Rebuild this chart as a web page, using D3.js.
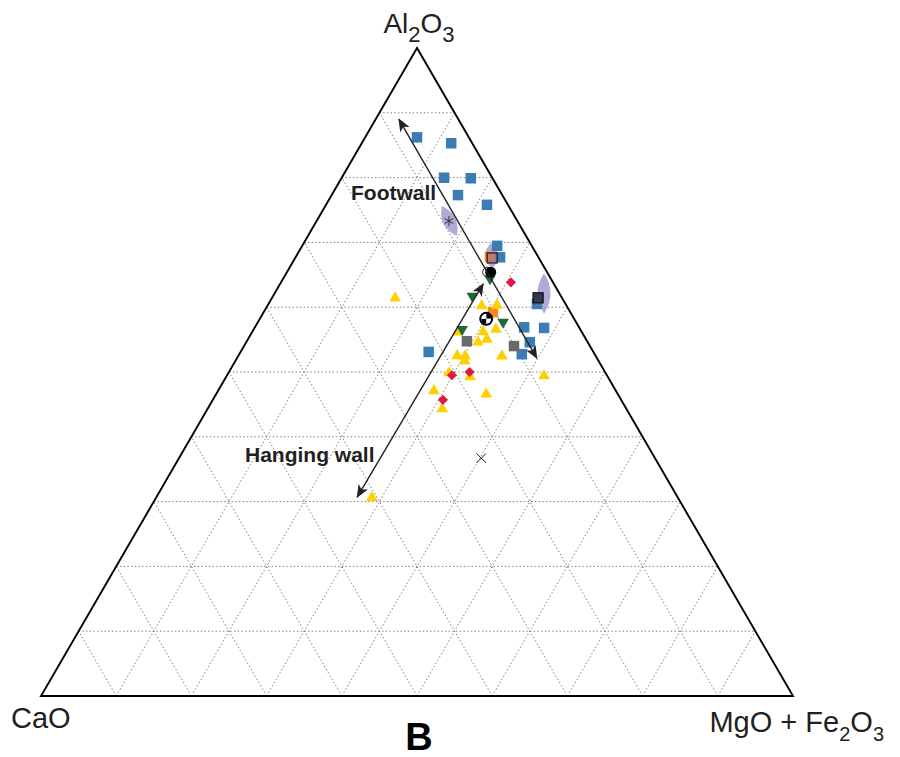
<!DOCTYPE html>
<html>
<head>
<meta charset="utf-8">
<script src="https://cdn.jsdelivr.net/npm/d3@7"></script>
<style>
    body { margin: 0; background: #fff; }
    text { font-family: "Liberation Sans", Arial, sans-serif; }
</style>
</head>
<body>
<div id="chart"></div>
<script>
// Ternary compositions in percent: [Al2O3, CaO, MgO + Fe2O3]
const blueSquares = [
    [86.3, 6.9, 6.9], [85.3, 2.8, 11.9], [79.9, 6.4, 13.6], [79.9, 2.9, 17.2],
    [77.3, 5.9, 16.8], [75.8, 2.8, 21.4], [69.4, 4.6, 25.9], [67.7, 5.1, 27.2],
    [60.5, 3.8, 35.7], [56.9, 7.3, 35.8], [56.8, 4.7, 38.5], [54.6, 7.7, 37.7],
    [52.8, 9.7, 37.6], [53.1, 21.9, 25.0]
];
const yellowTriangles = [
    [61.4, 22.2, 16.4], [60.2, 11.3, 28.5], [60.3, 9.2, 30.5], [56.2, 16.5, 27.4],
    [56.2, 13.1, 30.7], [56.6, 11.2, 32.2], [55.1, 13.2, 31.8], [54.6, 14.6, 30.8],
    [52.5, 18.4, 29.1], [52.5, 17.4, 30.2], [51.7, 17.8, 30.5], [52.5, 12.5, 35.1],
    [49.8, 20.8, 29.3], [49.2, 18.3, 32.4], [49.4, 8.4, 42.2], [47.1, 24.2, 28.7],
    [46.6, 17.5, 35.9], [44.3, 24.5, 31.2], [30.6, 40.7, 28.7]
];
const greenTriangles = [
    [64.4, 8.1, 27.5], [61.7, 11.8, 26.5], [57.7, 9.7, 32.6], [56.6, 15.7, 27.7]
];
const redDiamonds = [
    [63.9, 5.6, 30.6], [49.5, 20.6, 29.9], [50.0, 18.0, 32.0], [45.7, 23.7, 30.6]
];
const graySquares = [[54.8, 16.0, 29.3], [54.0, 10.1, 35.9]];
const orangeSquares = [[67.7, 6.4, 25.8], [59.3, 10.3, 30.5]];
const meanSquares = [[67.6, 6.2, 26.2], [62.0, 3.2, 35.7]];
// error ranges drawn as lenses: [start, end]
const lenses = [
    [[75.6, 8.9, 15.5], [71.0, 9.2, 19.8]],
    [[69.9, 5.2, 24.9], [66.0, 7.0, 27.0]],
    [[65.3, 0.5, 34.3], [59.0, 3.6, 37.4]]
];
const asterisks = [[73.3, 9.1, 17.6]];
const blackCircles = [[65.4, 7.5, 27.1]];
const openCircles = [[65.4, 7.9, 26.7]];
const checkerCircles = [[58.2, 11.7, 30.1]];
const crosses = [[36.7, 23.1, 40.2]];
// trend arrows
const arrows = [
    { name: "Footwall", from: [89.0, 7.9, 3.1], to: [52.2, 8.0, 39.9] },
    { name: "Hanging wall", from: [63.6, 9.4, 27.0], to: [30.7, 42.6, 26.7] }
];
const gridSteps = [10, 20, 30, 40, 50, 60, 70, 80, 90];

function init() {
    const width = 900, height = 757;

    const svg = d3.select("#chart")
                  .append("svg")
                  .attr("width", width)
                  .attr("height", height);

    // Ternary -> screen scales
    const xScale = d3.scaleLinear().domain([0, 1]).range([41, 793]);
    const yScale = d3.scaleLinear().domain([0, 1]).range([696, 48]);

    function project(d) {
        const s = d[0] + d[1] + d[2];
        const a = d[0] / s, m = d[2] / s;
        return [xScale(m + a / 2), yScale(a)];
    }

    // Grid lines parallel to each side
    const grid = svg.append("g");
    const gridLines = [];
    gridSteps.forEach(v => {
        gridLines.push([[v, 100 - v, 0], [v, 0, 100 - v]]);   // constant Al2O3
        gridLines.push([[0, v, 100 - v], [100 - v, v, 0]]);   // constant CaO
        gridLines.push([[0, 100 - v, v], [100 - v, 0, v]]);   // constant MgO+Fe2O3
    });
    grid.selectAll("line")
        .data(gridLines)
        .enter()
        .append("line")
        .attr("x1", d => project(d[0])[0])
        .attr("y1", d => project(d[0])[1])
        .attr("x2", d => project(d[1])[0])
        .attr("y2", d => project(d[1])[1])
        .attr("stroke", "#808080")
        .attr("stroke-width", 1)
        .attr("stroke-dasharray", "1.5,2.2");

    // Triangle outline
    const corners = [[100, 0, 0], [0, 100, 0], [0, 0, 100]].map(project);
    svg.append("path")
       .attr("d", d3.line()(corners) + "Z")
       .attr("fill", "none")
       .attr("stroke", "#000")
       .attr("stroke-width", 1.9)
       .attr("stroke-linejoin", "miter");

    // Error lenses
    svg.selectAll(".lens")
       .data(lenses)
       .enter()
       .append("path")
       .attr("class", "lens")
       .attr("d", d => {
           const p0 = project(d[0]), p1 = project(d[1]);
           const mx = (p0[0] + p1[0]) / 2, my = (p0[1] + p1[1]) / 2;
           const dx = p1[0] - p0[0], dy = p1[1] - p0[1];
           const len = Math.hypot(dx, dy), w = 6.5;
           const nx = -dy / len * w, ny = dx / len * w;
           return `M${p0[0]},${p0[1]} Q${mx + nx * 2},${my + ny * 2} ${p1[0]},${p1[1]} Q${mx - nx * 2},${my - ny * 2} ${p0[0]},${p0[1]}Z`;
       })
       .attr("fill", "#a39ad0")
       .attr("opacity", 0.85);

    // Marker helpers
    function squares(data, fill, size, stroke) {
        svg.append("g").selectAll("rect")
           .data(data)
           .enter()
           .append("rect")
           .attr("x", d => project(d)[0] - size / 2)
           .attr("y", d => project(d)[1] - size / 2)
           .attr("width", size)
           .attr("height", size)
           .attr("fill", fill)
           .attr("stroke", stroke || "none")
           .attr("stroke-width", 1.3);
    }

    function symbols(data, type, fill, size, rotate) {
        svg.append("g").selectAll("path")
           .data(data)
           .enter()
           .append("path")
           .attr("d", d3.symbol().type(type).size(size))
           .attr("transform", d => `translate(${project(d)}) rotate(${rotate || 0})`)
           .attr("fill", fill);
    }

    squares(blueSquares, "#3b7cb6", 10.5);
    squares(orangeSquares, "#f5891f", 10.5);
    squares(meanSquares.slice(0, 1), "rgba(150,110,170,0.55)", 10, "#222");
    squares(meanSquares.slice(1), "#3a3650", 10, "#111");

    symbols(yellowTriangles, d3.symbolTriangle, "#ffd000", 60, 0);
    symbols(greenTriangles, d3.symbolTriangle, "#1d6a34", 58, 180);
    symbols(redDiamonds, d3.symbolSquare, "#e3183f", 52, 45);
    squares(graySquares, "#6a6a6a", 10.5);

    // Asterisk
    svg.append("g").selectAll("path")
       .data(asterisks)
       .enter()
       .append("path")
       .attr("d", d3.symbol().type(d3.symbolAsterisk).size(70))
       .attr("transform", d => `translate(${project(d)})`)
       .attr("stroke", "#333")
       .attr("stroke-width", 1);

    // Cross
    svg.append("g").selectAll("path")
       .data(crosses)
       .enter()
       .append("path")
       .attr("d", d3.symbol().type(d3.symbolX).size(60))
       .attr("transform", d => `translate(${project(d)})`)
       .attr("stroke", "#222")
       .attr("stroke-width", 1);

    // Circles
    svg.append("g").selectAll("circle")
       .data(openCircles)
       .enter()
       .append("circle")
       .attr("cx", d => project(d)[0])
       .attr("cy", d => project(d)[1])
       .attr("r", 5)
       .attr("fill", "none")
       .attr("stroke", "#222")
       .attr("stroke-width", 1);

    svg.append("g").selectAll("circle")
       .data(blackCircles)
       .enter()
       .append("circle")
       .attr("cx", d => project(d)[0])
       .attr("cy", d => project(d)[1])
       .attr("r", 5.5)
       .attr("fill", "#000");

    // Checkered circle: alternating quadrants
    const quarter = d3.arc().innerRadius(0).outerRadius(5);
    const checker = svg.append("g").selectAll("g")
                       .data(checkerCircles)
                       .enter()
                       .append("g")
                       .attr("transform", d => `translate(${project(d)})`);
    checker.selectAll("path")
           .data([0, 1, 2, 3])
           .enter()
           .append("path")
           .attr("d", i => quarter({ startAngle: i * Math.PI / 2, endAngle: (i + 1) * Math.PI / 2 }))
           .attr("fill", i => i % 2 ? "#fff" : "#000");
    checker.append("circle")
           .attr("r", 6)
           .attr("fill", "none")
           .attr("stroke", "#000")
           .attr("stroke-width", 2);

    // Arrow head marker
    svg.append("defs")
       .append("marker")
       .attr("id", "head")
       .attr("viewBox", "0 0 12 10")
       .attr("refX", 11)
       .attr("refY", 5)
       .attr("markerWidth", 13)
       .attr("markerHeight", 11)
       .attr("markerUnits", "userSpaceOnUse")
       .attr("orient", "auto-start-reverse")
       .append("path")
       .attr("d", "M0,0 L12,5 L0,10 L3,5 Z")
       .attr("fill", "#222");

    svg.append("g").selectAll("line")
       .data(arrows)
       .enter()
       .append("line")
       .attr("x1", d => project(d.from)[0])
       .attr("y1", d => project(d.from)[1])
       .attr("x2", d => project(d.to)[0])
       .attr("y2", d => project(d.to)[1])
       .attr("stroke", "#222")
       .attr("stroke-width", 1.4)
       .attr("marker-start", "url(#head)")
       .attr("marker-end", "url(#head)");

    // Arrow labels
    svg.append("text")
       .attr("x", 351).attr("y", 200)
       .attr("font-size", 21).attr("font-weight", "bold").attr("fill", "#231f20")
       .text(arrows[0].name);
    svg.append("text")
       .attr("x", 245).attr("y", 462)
       .attr("font-size", 21).attr("font-weight", "bold").attr("fill", "#231f20")
       .text(arrows[1].name);

    // Apex labels
    const top = svg.append("text")
                   .attr("x", 419).attr("y", 33)
                   .attr("text-anchor", "middle")
                   .attr("font-size", 28).attr("fill", "#231f20");
    top.append("tspan").text("Al");
    top.append("tspan").attr("dy", 9).attr("font-size", 22).text("2");
    top.append("tspan").attr("dy", -9).text("O");
    top.append("tspan").attr("dy", 9).attr("font-size", 22).text("3");

    svg.append("text")
       .attr("x", 11).attr("y", 728)
       .attr("font-size", 29).attr("fill", "#231f20")
       .text("CaO");

    const right = svg.append("text")
                     .attr("x", 884).attr("y", 732)
                     .attr("text-anchor", "end")
                     .attr("font-size", 29).attr("fill", "#231f20");
    right.append("tspan").text("MgO + Fe");
    right.append("tspan").attr("dy", 9).attr("font-size", 20).text("2");
    right.append("tspan").attr("dy", -9).text("O");
    right.append("tspan").attr("dy", 9).attr("font-size", 20).text("3");

    svg.append("text")
       .attr("x", 419).attr("y", 750)
       .attr("text-anchor", "middle")
       .attr("font-size", 38).attr("font-weight", "bold").attr("fill", "#000")
       .text("B");
}

init();
</script>
</body>
</html>
